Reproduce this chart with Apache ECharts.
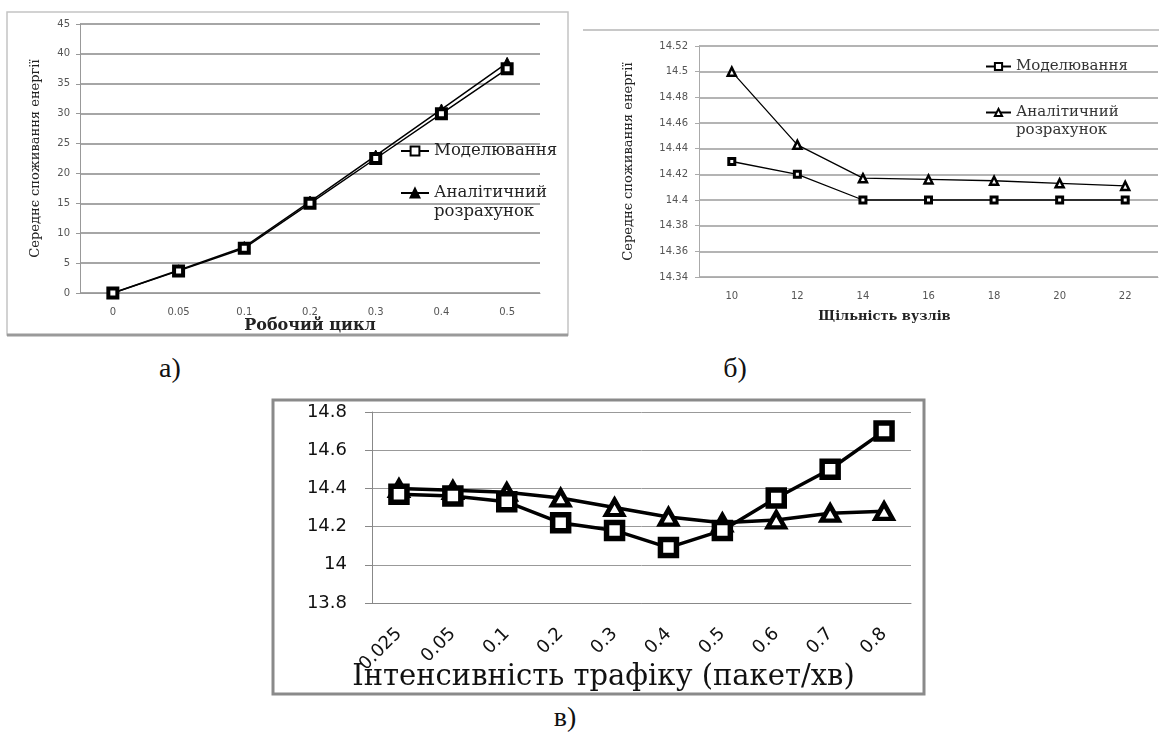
<!DOCTYPE html>
<html>
<head>
<meta charset="utf-8">
<script src="https://cdn.jsdelivr.net/npm/echarts@6/dist/echarts.min.js"></script>
<style>
  body { margin: 0; background: #fff; width: 1159px; height: 740px; position: relative; overflow: hidden; }
  .panel { position: absolute; }
  .tag { position: absolute; font-family: 'Liberation Serif', serif; font-size: 28px; color: #111; transform: translate(-50%, -50%); }
</style>
</head>
<body>
<div id="chartA" class="panel" style="left:0;top:0;width:580px;height:345px;"></div>
<div id="chartB" class="panel" style="left:580px;top:0;width:579px;height:345px;"></div>
<div id="chartC" class="panel" style="left:265px;top:395px;width:670px;height:305px;"></div>
<div class="tag" style="left:170px;top:368px;">а)</div>
<div class="tag" style="left:735px;top:368px;">б)</div>
<div class="tag" style="left:565px;top:717px;">в)</div>

<script>
// а) робочий цикл
const dutyCycle = ['0', '0.05', '0.1', '0.2', '0.3', '0.4', '0.5'];
const modelA = [0, 3.7, 7.5, 15, 22.5, 30, 37.5];
const analyticA = [0, 3.8, 7.7, 15.3, 23, 30.7, 38.5];

// б) щільність вузлів
const nodeDensity = ['10', '12', '14', '16', '18', '20', '22'];
const modelB = [14.43, 14.42, 14.40, 14.40, 14.40, 14.40, 14.40];
const analyticB = [14.50, 14.443, 14.417, 14.416, 14.415, 14.413, 14.411];

// в) інтенсивність трафіку
const trafficRate = ['0.025', '0.05', '0.1', '0.2', '0.3', '0.4', '0.5', '0.6', '0.7', '0.8'];
const modelC = [14.37, 14.36, 14.33, 14.22, 14.18, 14.09, 14.18, 14.35, 14.50, 14.70];
const analyticC = [14.40, 14.39, 14.38, 14.35, 14.30, 14.25, 14.22, 14.235, 14.27, 14.28];

const nameModel = 'Моделювання';
const nameAnalytic = 'Аналітичний розрахунок';
const serif = 'DejaVu Serif';

function legendText (name) {
  // перший рядок підпису на рівні значка
  return name === nameAnalytic ? '\nАналітичний\nрозрахунок' : name;
}

// ---------- а)
let chartA = echarts.init(document.getElementById('chartA'));
chartA.setOption({
  animation: false,
  grid: { left: 80, top: 24, width: 460, height: 269, outerBoundsMode: 'none' },
  graphic: [
    { type: 'rect', shape: { x: 7, y: 12, width: 561, height: 323 }, style: { fill: 'none', stroke: '#c4c4c4', lineWidth: 1.5 } },
    { type: 'line', shape: { x1: 7, y1: 335, x2: 568, y2: 335 }, style: { stroke: '#9a9a9a', lineWidth: 3 } }
  ],
  legend: {
    orient: 'vertical', left: 400, top: 141.5, padding: 0, itemGap: 4,
    itemWidth: 28, itemHeight: 11,
    data: [nameModel, nameAnalytic],
    formatter: legendText,
    textStyle: { fontFamily: serif, fontSize: 16.5, lineHeight: 19, color: '#222' }
  },
  xAxis: {
    type: 'category', data: dutyCycle,
    name: 'Робочий цикл', nameLocation: 'middle', nameGap: 25, nameMoveOverlap: false,
    nameTextStyle: { fontFamily: serif, fontSize: 16, fontWeight: 'bold', color: '#222' },
    axisLine: { lineStyle: { color: '#999', width: 1 } },
    axisTick: { length: 4, lineStyle: { color: '#999' } },
    axisLabel: { margin: 14, fontFamily: 'DejaVu Sans', fontSize: 10, color: '#555' }
  },
  yAxis: {
    type: 'value', min: 0, max: 45, interval: 5,
    name: 'Середнє споживання енергії', nameLocation: 'middle', nameRotate: 90, nameGap: 38, nameMoveOverlap: false,
    nameTextStyle: { fontFamily: serif, fontSize: 13, color: '#222' },
    axisLine: { show: true, lineStyle: { color: '#999' } },
    axisTick: { show: true, length: 4, lineStyle: { color: '#999' } },
    axisLabel: { margin: 10, fontFamily: 'DejaVu Sans', fontSize: 10, color: '#555' },
    splitLine: { lineStyle: { color: '#a6a6a6', width: 2 } }
  },
  series: [
    {
      name: nameAnalytic, type: 'line', data: analyticA,
      symbol: 'triangle', symbolSize: 11,
      lineStyle: { color: '#000', width: 1.5 },
      itemStyle: { color: '#000', borderColor: '#000', borderWidth: 1 }
    },
    {
      name: nameModel, type: 'line', data: modelA,
      symbol: 'rect', symbolSize: 9,
      lineStyle: { color: '#000', width: 1.5 },
      itemStyle: { color: '#fff', borderColor: '#000', borderWidth: 4 }
    }
  ]
});

// ---------- б)
let chartB = echarts.init(document.getElementById('chartB'));
chartB.setOption({
  animation: false,
  grid: { left: 119, top: 46, width: 459, height: 231, outerBoundsMode: 'none' },
  graphic: [
    { type: 'line', shape: { x1: 3, y1: 30, x2: 579, y2: 30 }, style: { stroke: '#c8c8c8', lineWidth: 2 } }
  ],
  legend: {
    orient: 'vertical', left: 405, top: 57.5, padding: 0, itemGap: 10,
    itemWidth: 25, itemHeight: 9,
    data: [nameModel, nameAnalytic],
    formatter: legendText,
    textStyle: { fontFamily: serif, fontSize: 15, lineHeight: 18, color: '#333' }
  },
  xAxis: {
    type: 'category', data: nodeDensity,
    name: 'Щільність вузлів', nameLocation: 'middle', nameGap: 33, nameMoveOverlap: false,
    nameTextStyle: { fontFamily: serif, fontSize: 13, fontWeight: 'bold', color: '#222', padding: [0, 88, 0, 0] },
    axisLine: { lineStyle: { color: '#aaa', width: 1 } },
    axisTick: { length: 4, lineStyle: { color: '#aaa' } },
    axisLabel: { margin: 14, fontFamily: 'DejaVu Sans', fontSize: 10, color: '#555' }
  },
  yAxis: {
    type: 'value', min: 14.34, max: 14.52, interval: 0.02,
    name: 'Середнє споживання енергії', nameLocation: 'middle', nameRotate: 90, nameGap: 64, nameMoveOverlap: false,
    nameTextStyle: { fontFamily: serif, fontSize: 13, color: '#222' },
    axisLine: { show: true, lineStyle: { color: '#aaa' } },
    axisTick: { show: true, length: 4, lineStyle: { color: '#aaa' } },
    axisLabel: { margin: 11, fontFamily: 'DejaVu Sans', fontSize: 10, color: '#555' },
    splitLine: { lineStyle: { color: '#b4b4b4', width: 2 } }
  },
  series: [
    {
      name: nameModel, type: 'line', data: modelB,
      symbol: 'rect', symbolSize: 6,
      lineStyle: { color: '#000', width: 1.3 },
      itemStyle: { color: '#fff', borderColor: '#000', borderWidth: 3 }
    },
    {
      name: nameAnalytic, type: 'line', data: analyticB,
      symbol: 'triangle', symbolSize: 8,
      lineStyle: { color: '#000', width: 1.3 },
      itemStyle: { color: '#fff', borderColor: '#000', borderWidth: 2.5 }
    }
  ]
});

// ---------- в)
let chartC = echarts.init(document.getElementById('chartC'));
chartC.setOption({
  animation: false,
  grid: { left: 107, top: 17, width: 539, height: 191, outerBoundsMode: 'none' },
  graphic: [
    { type: 'rect', shape: { x: 8, y: 5, width: 651, height: 294 }, style: { fill: 'none', stroke: '#8a8a8a', lineWidth: 3 } }
  ],
  xAxis: {
    type: 'category', data: trafficRate,
    name: 'Інтенсивність трафіку (пакет/хв)', nameLocation: 'middle', nameGap: 60, nameMoveOverlap: false,
    nameTextStyle: { fontFamily: serif, fontSize: 29, color: '#111', padding: [0, 76, 0, 0] },
    axisLine: { lineStyle: { color: '#888', width: 1 } },
    axisTick: { length: 8, lineStyle: { color: '#888' } },
    axisLabel: { rotate: 45, margin: 28, fontFamily: 'DejaVu Sans', fontSize: 18, color: '#111' }
  },
  yAxis: {
    type: 'value', min: 13.8, max: 14.8, interval: 0.2,
    axisLine: { show: true, lineStyle: { color: '#888' } },
    axisTick: { show: true, length: 7, lineStyle: { color: '#888' } },
    axisLabel: { margin: 25, fontFamily: 'DejaVu Sans', fontSize: 18, color: '#111' },
    splitLine: { lineStyle: { color: '#999', width: 1 } }
  },
  series: [
    {
      name: nameAnalytic, type: 'line', data: analyticC,
      symbol: 'triangle', symbolSize: [17, 15],
      lineStyle: { color: '#000', width: 3.5 },
      itemStyle: { color: '#fff', borderColor: '#000', borderWidth: 4.5 }
    },
    {
      name: nameModel, type: 'line', data: modelC,
      symbol: 'rect', symbolSize: 16,
      lineStyle: { color: '#000', width: 3.5 },
      itemStyle: { color: '#fff', borderColor: '#000', borderWidth: 5.5 }
    }
  ]
});
</script>
</body>
</html>
